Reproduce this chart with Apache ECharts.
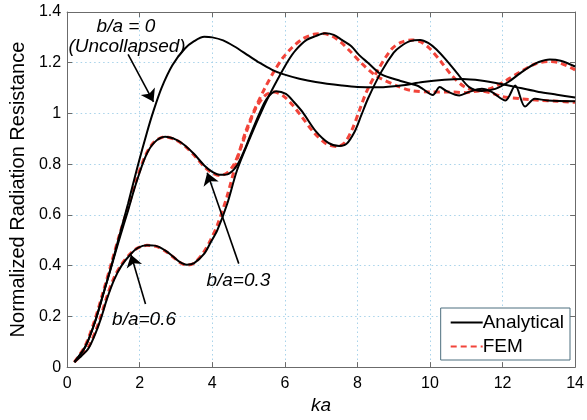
<!DOCTYPE html>
<html>
<head>
<meta charset="utf-8">
<script src="https://cdn.jsdelivr.net/npm/echarts@6/dist/echarts.min.js"></script>
<style>html,body{margin:0;padding:0;background:#fff;}#c{width:587px;height:420px;}</style>
</head>
<body>
<div id="c"></div>
<script>
// ---- data ----
const xTicks = [0, 2, 4, 6, 8, 10, 12, 14];
const yTicks = [0, 0.2, 0.4, 0.6, 0.8, 1, 1.2, 1.4];

// b/a = 0 (uncollapsed), analytical
const ka0 = [0.2,0.5,0.76,1.0,1.22,1.5,1.68,1.94,2.2,2.38,2.6,2.9,3.24,3.5,3.78,4.0,4.3,4.6,5.0,5.3,5.65,5.95,6.4,6.85,7.57,8.0,8.6,9.2,9.8,10.4,10.9,11.4,12.0,12.5,13.0,13.5,14.0];
const r0  = [0.02,0.08,0.175,0.29,0.40,0.55,0.645,0.79,0.925,1.01,1.1,1.19,1.255,1.285,1.302,1.30,1.288,1.265,1.228,1.2,1.172,1.155,1.137,1.124,1.11,1.104,1.103,1.11,1.124,1.133,1.136,1.13,1.115,1.10,1.085,1.074,1.063];

// b/a = 0.3, analytical
const ka3 = [0.2,0.5,0.76,1.0,1.22,1.45,1.68,1.89,2.16,2.4,2.7,3.0,3.24,3.5,3.78,4.0,4.24,4.45,4.68,4.9,5.05,5.3,5.5,5.76,6.03,6.25,6.49,6.85,7.2,7.5,7.7,7.93,8.1,8.29,8.65,9.0,9.19,9.45,9.73,9.95,10.18,10.45,10.73,11.08,11.43,11.8,12.16,12.45,12.7,13.0,13.3,13.6,14.0];
const r3  = [0.02,0.08,0.175,0.29,0.397,0.51,0.618,0.72,0.83,0.885,0.908,0.897,0.875,0.84,0.795,0.77,0.758,0.762,0.795,0.86,0.915,1.0,1.058,1.088,1.077,1.045,1.005,0.93,0.884,0.872,0.88,0.93,0.99,1.058,1.162,1.24,1.264,1.285,1.29,1.278,1.252,1.21,1.162,1.104,1.089,1.097,1.124,1.155,1.18,1.203,1.213,1.208,1.185];

// b/a = 0.3, FEM
const ka3f = [0.2,0.5,0.76,1.0,1.22,1.45,1.68,1.89,2.16,2.4,2.7,3.0,3.24,3.5,3.78,4.0,4.2,4.4,4.6,4.8,5.0,5.2,5.45,5.7,5.95,6.2,6.45,6.8,7.15,7.45,7.65,7.85,8.05,8.25,8.6,8.95,9.2,9.5,9.75,10.0,10.3,10.6,10.95,11.3,11.7,12.1,12.5,12.9,13.3,13.6,14.0];
const r3f  = [0.02,0.085,0.185,0.30,0.41,0.525,0.63,0.73,0.835,0.888,0.908,0.895,0.872,0.835,0.79,0.765,0.755,0.765,0.8,0.87,0.95,1.02,1.07,1.085,1.07,1.035,0.99,0.925,0.88,0.87,0.885,0.935,1.01,1.085,1.18,1.255,1.28,1.29,1.282,1.255,1.205,1.15,1.105,1.09,1.1,1.13,1.165,1.195,1.205,1.198,1.172];

// b/a = 0.6, analytical
const ka6 = [0.2,0.4,0.59,0.8,0.95,1.1,1.3,1.5,1.76,1.95,2.2,2.45,2.7,2.92,3.1,3.3,3.5,3.78,3.95,4.14,4.41,4.68,5.0,5.3,5.6,5.86,6.1,6.3,6.6,6.85,7.1,7.35,7.57,7.84,8.05,8.29,8.65,9.19,9.64,9.8,10.08,10.27,10.45,10.81,11.08,11.43,11.7,12.08,12.35,12.62,12.89,13.24,14.0];
const r6  = [0.02,0.045,0.074,0.14,0.2,0.27,0.346,0.40,0.447,0.47,0.48,0.478,0.46,0.436,0.415,0.404,0.41,0.447,0.49,0.54,0.643,0.775,0.89,0.99,1.08,1.15,1.21,1.25,1.29,1.305,1.316,1.31,1.29,1.264,1.23,1.20,1.155,1.128,1.11,1.097,1.073,1.104,1.089,1.071,1.085,1.097,1.085,1.051,1.11,1.027,1.058,1.051,1.048];

// b/a = 0.6, FEM
const ka6f = [0.2,0.4,0.59,0.8,0.95,1.1,1.3,1.5,1.76,1.95,2.2,2.45,2.7,2.92,3.1,3.3,3.5,3.75,3.95,4.14,4.4,4.65,4.9,5.15,5.45,5.7,5.95,6.2,6.5,6.8,7.05,7.3,7.55,7.8,8.1,8.5,9.1,9.5,10.0,10.5,11.0,11.35,11.7,12.0,12.5,13.0,13.5,14.0];
const r6f  = [0.02,0.048,0.08,0.148,0.21,0.28,0.355,0.405,0.45,0.47,0.48,0.476,0.458,0.434,0.413,0.402,0.41,0.45,0.5,0.56,0.67,0.8,0.92,1.01,1.1,1.165,1.22,1.26,1.295,1.312,1.315,1.305,1.28,1.245,1.2,1.15,1.108,1.09,1.085,1.085,1.082,1.089,1.08,1.066,1.058,1.052,1.048,1.044];

// annotations (data coordinates)
const labels = [
  {text: 'b/a = 0', ka: 1.62, r: 1.34},
  {text: '(Uncollapsed)', ka: 1.65, r: 1.262},
  {text: 'b/a=0.3', ka: 4.72, r: 0.342},
  {text: 'b/a=0.6', ka: 2.12, r: 0.188}
];
const arrows = [
  {from: [1.68, 1.233], to: [2.38, 1.046]},
  {from: [4.73, 0.408], to: [3.86, 0.766]},
  {from: [2.16, 0.249], to: [1.76, 0.443]}
];

const zip = (a, b) => a.map((v, i) => [v, b[i]]);
const FONT = '"Liberation Sans", Arial, Helvetica, sans-serif';
const RED = '#f2443a';

const chart = echarts.init(document.getElementById('c'), null, {renderer: 'canvas'});
const gridColor = '#a9d3ea';
const axisColor = '#6b6b6b';

const option = {
  animation: false,
  backgroundColor: '#ffffff',
  textStyle: {fontFamily: FONT},
  grid: {left: 60, right: 9, top: 12, bottom: 48, containLabel: false},
  legend: {
    data: ['Analytical', 'FEM'],
    orient: 'vertical',
    right: 17,
    bottom: 60,
    itemWidth: 32,
    itemHeight: 12,
    itemGap: 5,
    padding: [5, 6, 4, 9],
    borderColor: '#4d6e7e',
    borderWidth: 1,
    borderRadius: 0,
    backgroundColor: '#ffffff',
    itemStyle: {opacity: 0},
    textStyle: {fontFamily: FONT, fontSize: 19, color: '#000', padding: [0, 0, 0, -5]}
  },
  xAxis: [{
    type: 'value', min: 0, max: 14, interval: 2,
    name: 'ka', nameLocation: 'middle', nameGap: 27,
    nameTextStyle: {fontFamily: FONT, fontSize: 19, fontStyle: 'italic', color: '#000'},
    axisLine: {show: true, onZero: false, lineStyle: {color: axisColor, width: 1}},
    axisTick: {show: true, inside: true, length: 5, lineStyle: {color: axisColor}},
    axisLabel: {fontFamily: FONT, fontSize: 16, color: '#000', margin: 8,
      formatter: v => xTicks.includes(v) ? String(v) : ''},
    splitLine: {show: true, lineStyle: {color: gridColor, type: [1.5, 3], width: 1}}
  }, {
    type: 'value', min: 0, max: 14, interval: 2, position: 'top',
    axisLine: {show: true, onZero: false, lineStyle: {color: axisColor, width: 1}},
    axisTick: {show: true, inside: true, length: 5, lineStyle: {color: axisColor}},
    axisLabel: {show: false}, splitLine: {show: false}
  }],
  yAxis: [{
    type: 'value', min: 0, max: 1.4, interval: 0.2,
    name: 'Normalized Radiation Resistance', nameLocation: 'middle', nameGap: 36,
    nameTextStyle: {fontFamily: FONT, fontSize: 20, color: '#000'},
    axisLine: {show: true, onZero: false, lineStyle: {color: axisColor, width: 1}},
    axisTick: {show: true, inside: true, length: 5, lineStyle: {color: axisColor}},
    axisLabel: {fontFamily: FONT, fontSize: 16, color: '#000', margin: 6,
      formatter: v => { const t = yTicks.find(y => Math.abs(y - v) < 1e-9); return t === undefined ? '' : String(t); }},
    splitLine: {show: true, lineStyle: {color: gridColor, type: [1.5, 3], width: 1}}
  }, {
    type: 'value', min: 0, max: 1.4, interval: 0.2, position: 'right',
    axisLine: {show: true, onZero: false, lineStyle: {color: axisColor, width: 1}},
    axisTick: {show: true, inside: true, length: 5, lineStyle: {color: axisColor}},
    axisLabel: {show: false}, splitLine: {show: false}
  }],
  series: [
    {
      name: 'FEM', type: 'line', data: zip(ka3f, r3f), symbol: 'none', smooth: 0.3, z: 2,
      lineStyle: {color: RED, width: 3, type: [6, 4]}, itemStyle: {color: RED}
    },
    {
      name: 'FEM', type: 'line', data: zip(ka6f, r6f), symbol: 'none', smooth: 0.3, z: 2,
      lineStyle: {color: RED, width: 3, type: [6, 4]}, itemStyle: {color: RED}
    },
    {
      name: 'Analytical', type: 'line', data: zip(ka0, r0), symbol: 'none', smooth: 0.3, z: 3,
      lineStyle: {color: '#000', width: 2}, itemStyle: {color: '#000'},
      markLine: {
        silent: true, animation: false,
        symbol: ['none', 'arrow'], symbolSize: 12,
        lineStyle: {color: '#000', width: 1.6, type: 'solid'},
        label: {show: false},
        data: arrows.map(a => [{coord: a.from}, {coord: a.to}])
      },
      markPoint: {
        silent: true, animation: false,
        symbol: 'circle', symbolSize: 1, itemStyle: {color: 'rgba(0,0,0,0)'},
        label: {show: true, position: 'inside', formatter: '{b}', fontFamily: FONT,
          fontSize: 19, fontStyle: 'italic', color: '#000'},
        data: labels.map(l => ({name: l.text, coord: [l.ka, l.r]}))
      }
    },
    {
      name: 'Analytical', type: 'line', data: zip(ka3, r3), symbol: 'none', smooth: 0.3, z: 3,
      lineStyle: {color: '#000', width: 2}, itemStyle: {color: '#000'}
    },
    {
      name: 'Analytical', type: 'line', data: zip(ka6, r6), symbol: 'none', smooth: 0.3, z: 3,
      lineStyle: {color: '#000', width: 2}, itemStyle: {color: '#000'}
    }
  ]
};
chart.setOption(option);
</script>
</body>
</html>
